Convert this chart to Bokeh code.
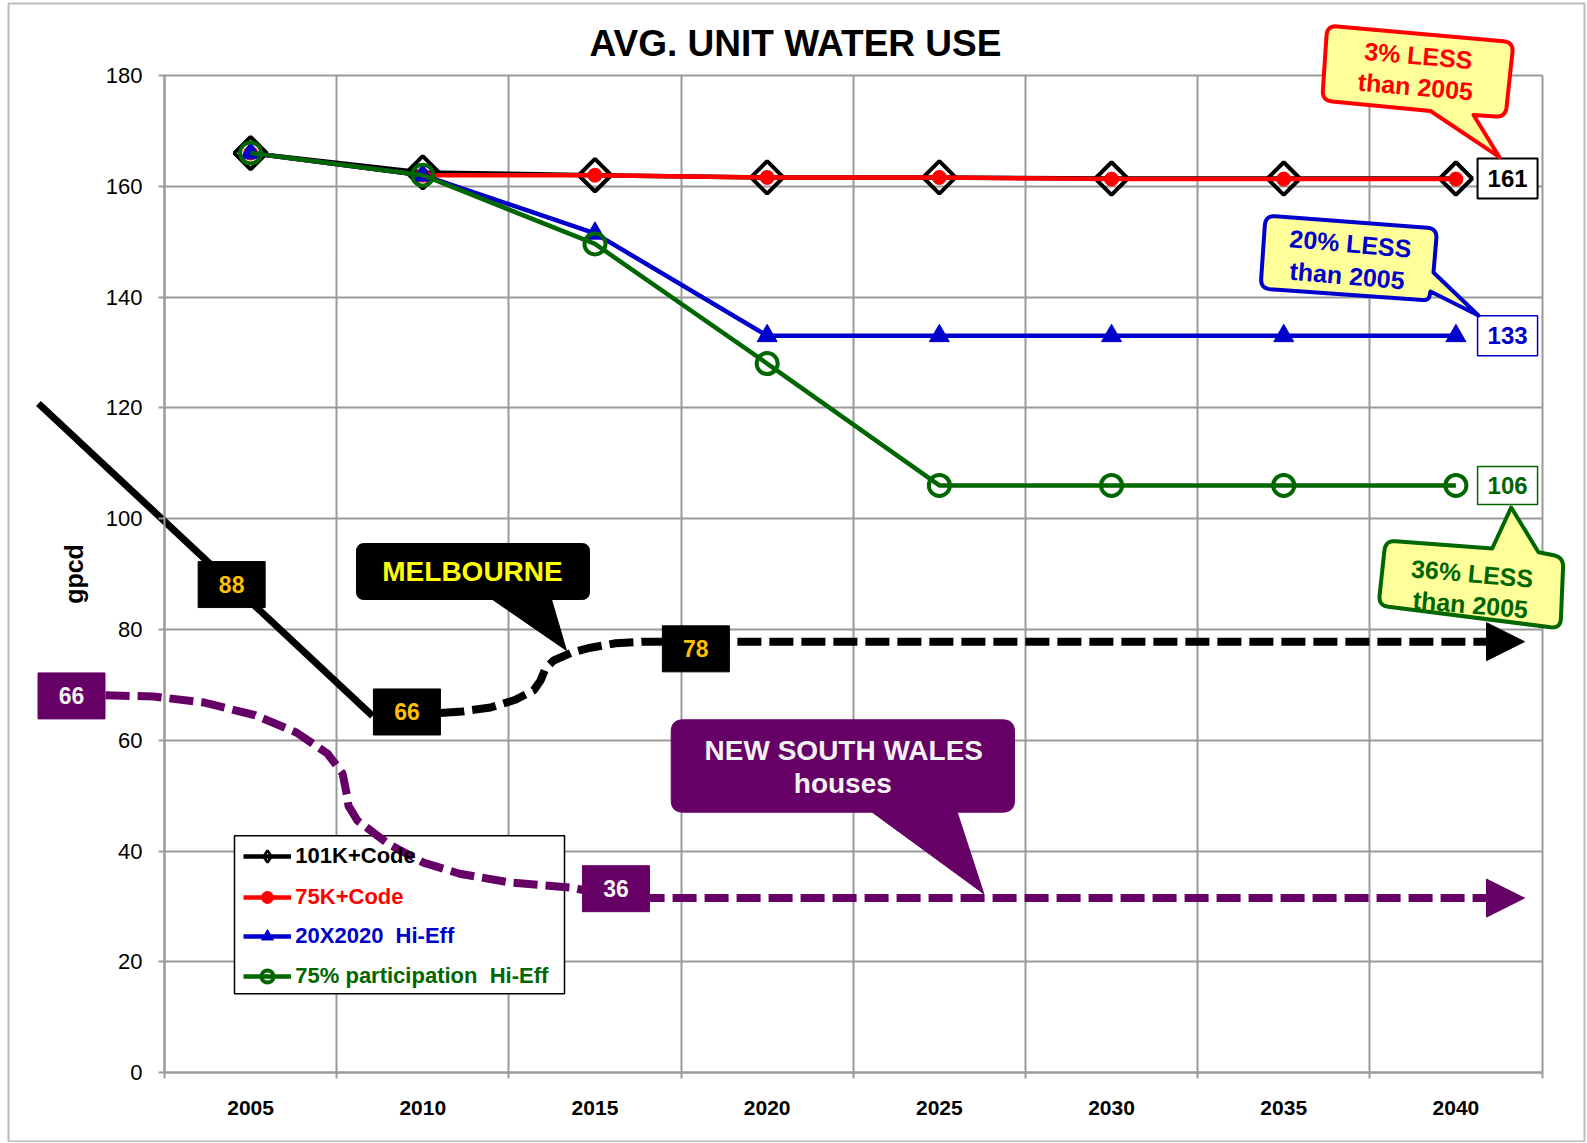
import math
from bokeh.plotting import figure
from bokeh.models import Range1d, FixedTicker, Legend, LegendItem, Arrow, NormalHead, Grid
from bokeh.core.properties import value
from bokeh.embed import file_html
from bokeh.resources import INLINE

# ---------------- data ----------------
years = [2005, 2010, 2015, 2020, 2025, 2030, 2035, 2040]
code_101k = [166, 162.5, 162, 161.6, 161.6, 161.4, 161.4, 161.4]
code_75k = [166, 162, 162, 161.6, 161.6, 161.3, 161.3, 161.3]
hi_eff_20x = [166, 162, 151.5, 133, 133, 133, 133, 133]
part_75 = [166, 162, 149.6, 128, 106, 106, 106, 106]
series_names = ["101K+Code", "75K+Code", "20X2020  Hi-Eff", "75% participation  Hi-Eff"]
y_ticks = [0, 20, 40, 60, 80, 100, 120, 140, 160, 180]
x_bounds = [2002.5, 2007.5, 2012.5, 2017.5, 2022.5, 2027.5, 2032.5, 2037.5, 2042.5]

# Melbourne trend (gpcd)
mel_solid_x = [1998.84, 2008.54]
mel_solid_y = [120.8, 64.4]
mel_dash_x = [2010.51, 2011.15, 2011.97, 2012.69, 2013.22, 2013.42, 2013.56, 2013.80,
              2014.32, 2014.87, 2015.60, 2016.41, 2040.92]
mel_dash_y = [64.9, 65.2, 65.9, 67.3, 69.0, 70.8, 72.9, 74.4, 75.8, 76.7, 77.5, 77.8, 77.8]
mel_label_x = [2004.45, 2009.54, 2017.93]
mel_label_y = [88.1, 65.1, 76.5]
mel_label_text = ["88", "66", "78"]

# New South Wales houses (gpcd)
nsw_dash_x = [2000.79, 2002.18, 2003.66, 2005.14, 2006.33, 2007.23, 2007.67, 2007.81, 2007.84,
              2008.10, 2009.00, 2010.02, 2011.07, 2012.55, 2014.32, 2015.16, 2016.58, 2040.92]
nsw_dash_y = [68.1, 67.9, 66.8, 64.5, 61.4, 57.6, 54.0, 49.7, 48.2,
              45.5, 41.3, 37.9, 35.9, 34.3, 33.4, 32.3, 31.5, 31.5]
nsw_label_x = [1999.80, 2015.61]
nsw_label_y = [68.0, 33.2]
nsw_label_text = ["66", "36"]

# ---------------- geometry ----------------
W, H = 1586, 1142
XR = (1997.738, 2043.792)
YR = (-12.62, 193.54)
FL, FR = 0, W
FT, FB = 0, H


def dx(px):
    return XR[0] + (px - FL) * (XR[1] - XR[0]) / (FR - FL)


def dy(py):
    return YR[0] + (FB - py) * (YR[1] - YR[0]) / (FB - FT)


FONT = value("Liberation Sans")

p = figure(width=W, height=H, title=None, toolbar_location=None, output_backend="svg",
           x_range=Range1d(*XR), y_range=Range1d(*YR),
           min_border_left=0, min_border_right=0, min_border_top=0, min_border_bottom=0)
p.outline_line_color = None
p.background_fill_color = "white"
p.border_fill_color = "white"

GRID = "#9a9a9a"

# outer chart border
p.quad(left=[dx(8)], right=[dx(1584)], top=[dy(3)], bottom=[dy(1141)], fill_color=None,
       line_color="#bdbdbd", line_width=2, level="underlay")

# axes
xa = p.xaxis[0]
xa.fixed_location = 0
xa.ticker = FixedTicker(ticks=years, minor_ticks=x_bounds)
xa.bounds = (x_bounds[0], x_bounds[-1])
xa.axis_line_color = GRID
xa.axis_line_width = 2
xa.major_tick_out = 0
xa.major_tick_in = 0
xa.minor_tick_out = 6
xa.minor_tick_in = 0
xa.minor_tick_line_color = GRID
xa.minor_tick_line_width = 2
xa.major_label_text_font = "Liberation Sans"
xa.major_label_text_font_style = "bold"
xa.major_label_text_font_size = "21px"
xa.major_label_text_color = "black"
xa.major_label_standoff = 22

ya = p.yaxis[0]
ya.fixed_location = x_bounds[0]
ya.ticker = FixedTicker(ticks=y_ticks)
ya.bounds = (0, 180)
ya.axis_line_color = GRID
ya.axis_line_width = 2
ya.major_tick_out = 6
ya.major_tick_in = 0
ya.major_tick_line_color = GRID
ya.major_tick_line_width = 2
ya.minor_tick_line_color = None
ya.major_label_text_font = "Liberation Sans"
ya.major_label_text_font_size = "22px"
ya.major_label_text_color = "black"
ya.major_label_standoff = 16
ya.axis_label = "gpcd"
ya.axis_label_text_font = "Liberation Sans"
ya.axis_label_text_font_style = "bold"
ya.axis_label_text_font_size = "25px"
ya.axis_label_text_color = "black"
ya.axis_label_standoff = 15

p.xgrid.ticker = FixedTicker(ticks=x_bounds)
p.ygrid.ticker = FixedTicker(ticks=y_ticks)
if "cross_bounds" in Grid.properties():
    for g in p.xgrid:
        g.bounds = (x_bounds[0], x_bounds[-1])
        g.cross_bounds = (0, 180)
    for g in p.ygrid:
        g.bounds = (0, 180)
        g.cross_bounds = (x_bounds[0], x_bounds[-1])
    p.xgrid.grid_line_color = GRID
    p.ygrid.grid_line_color = GRID
    p.xgrid.grid_line_width = 2
    p.ygrid.grid_line_width = 2
else:
    p.xgrid.visible = False
    p.ygrid.visible = False
    p.segment(x0=x_bounds, y0=[0] * len(x_bounds), x1=x_bounds, y1=[180] * len(x_bounds),
              line_color=GRID, line_width=2, level="underlay")
    p.segment(x0=[x_bounds[0]] * len(y_ticks), y0=y_ticks, x1=[x_bounds[-1]] * len(y_ticks),
              y1=y_ticks, line_color=GRID, line_width=2, level="underlay")


def round_poly(pts, n=8):
    xs, ys = [], []
    N = len(pts)
    for i in range(N):
        x, y, r = pts[i]
        if r <= 0:
            xs.append(x)
            ys.append(y)
            continue
        px, py, _ = pts[i - 1]
        nx, ny, _ = pts[(i + 1) % N]
        l1 = math.hypot(px - x, py - y)
        l2 = math.hypot(nx - x, ny - y)
        r1, r2 = min(r, l1 / 2), min(r, l2 / 2)
        ax, ay = x + (px - x) / l1 * r1, y + (py - y) / l1 * r1
        bx, by = x + (nx - x) / l2 * r2, y + (ny - y) / l2 * r2
        for k in range(n + 1):
            t = k / n
            xs.append((1 - t) ** 2 * ax + 2 * (1 - t) * t * x + t ** 2 * bx)
            ys.append((1 - t) ** 2 * ay + 2 * (1 - t) * t * y + t ** 2 * by)
    return [dx(v) for v in xs], [dy(v) for v in ys]


def bubble(pts, fill, line, lw, level="glyph"):
    xs, ys = round_poly(pts)
    r = p.patch(xs, ys, fill_color=fill, line_color=line, line_width=lw, line_join="round")
    r.level = level
    return r


def txt(x, y, t, color, size, angle=0.0, bold=True, level="glyph"):
    r = p.text(x=x, y=y, text=t, text_color=color, text_font=FONT,
               text_font_style="bold" if bold else "normal", text_font_size=size,
               text_align="center", text_baseline="middle", angle=angle)
    r.level = level
    return r


# legend box
p.rect(x=[dx(399)], y=[dy(914.2)], width=330, height=158, width_units="screen",
       height_units="screen", fill_color="white", line_color="black", line_width=1.5)

# ---------------- series ----------------
colors = ["#000000", "#FF0000", "#0000CC", "#006600"]
marker_specs = [
    dict(marker="square", angle=math.pi / 4, size=23, fill_color=None, line_width=4),
    dict(marker="circle", size=14, line_width=1),
    dict(marker="triangle", size=20, line_width=1),
    dict(marker="circle", size=21, fill_color=None, line_width=4),
]
series = [code_101k, code_75k, hi_eff_20x, part_75]
renderers = []
for vals, col, ms in zip(series, colors, marker_specs):
    lr = p.line(years, vals, line_color=col, line_width=4.5)
    kw = dict(ms)
    kw.setdefault("fill_color", col)
    sr = p.scatter(years, vals, line_color=col, **kw)
    renderers.append([lr, sr])

# legend swatch for the diamond marker (legend swatches ignore marker angle)
diamond_swatch = p.scatter([XR[0] - 50], [0], marker="diamond", size=20, fill_color=None,
                           line_color="black", line_width=2.5)
renderers[0] = [renderers[0][0], diamond_swatch]

# end value boxes
end_x = years[-1] + 1.5
box_specs = [(code_101k, "#000000", 2, 40), (hi_eff_20x, "#0000CC", 1.5, 40), (part_75, "#006600", 1.5, 38)]
for vals, col, lw, hh in box_specs:
    p.rect(x=[end_x], y=[vals[-1]], width=60, height=hh, width_units="screen",
           height_units="screen", fill_color="white", line_color=col, line_width=lw)
    txt([end_x], [vals[-1]], [str(round(vals[-1]))], col, "24px")


def pct_less(vals):
    return round((vals[0] - vals[-1]) / vals[0] * 100)


ANG = -0.087
FILL = "#FFFF99"
# red callout
bubble([(1326.7, 25, 10), (1513, 41.7, 10), (1505, 116.7, 10), (1473, 114.5, 0), (1499, 156.7, 0),
        (1430, 110.5, 0), (1321.7, 100, 10)], FILL, "#FF0000", 4)
txt([dx(1418), dx(1415)], [dy(55), dy(86)], [f"{pct_less(code_101k)}% LESS", "than 2005"],
    "#FF0000", "25px", ANG)
# blue callout
bubble([(1265, 215, 10), (1436.7, 228, 10), (1433, 272, 0), (1478, 315, 0), (1430, 291, 0),
        (1428, 300, 6), (1260, 288, 10)], FILL, "#0000CC", 4)
txt([dx(1350), dx(1346.7)], [dy(243), dy(275)], [f"{pct_less(hi_eff_20x)}% LESS", "than 2005"],
    "#0000CC", "25px", ANG)
# green callout
bubble([(1385, 540, 10), (1491.7, 548, 0), (1510.7, 507, 0), (1538, 551.7, 0), (1563, 556.7, 10),
        (1560, 628, 10), (1378, 605, 10)], FILL, "#006600", 4)
txt([dx(1471.7), dx(1470)], [dy(573), dy(604)], [f"{pct_less(part_75)}% LESS", "than 2005"],
    "#006600", "25px", ANG)

# ---------------- Melbourne ----------------
ARROW_TIP = dx(1524)
p.line(mel_solid_x, mel_solid_y, line_color="black", line_width=7)
p.line(mel_dash_x, mel_dash_y, line_color="black", line_width=8, line_dash="24 8")
p.add_layout(Arrow(end=NormalHead(size=38, fill_color="black", line_color="black", line_width=1),
                   x_start=mel_dash_x[-1], y_start=mel_dash_y[-1], x_end=ARROW_TIP, y_end=mel_dash_y[-1],
                   line_alpha=0))
bubble([(356, 543, 8), (589, 543, 8), (589, 599, 8), (551, 599, 0), (566, 650, 0), (492, 599, 0),
        (356, 599, 8)], "black", "black", 1)
txt([dx(472)], [dy(571)], ["MELBOURNE"], "#FFFF00", "28px")
p.rect(x=mel_label_x, y=mel_label_y, width=67, height=46, width_units="screen",
       height_units="screen", fill_color="black", line_color="black")
txt(mel_label_x, mel_label_y, mel_label_text, "#FFC000", "23px")

# ---------------- New South Wales ----------------
PURPLE = "#660066"
r = p.line(nsw_dash_x, nsw_dash_y, line_color=PURPLE, line_width=8, line_dash="24 8")
r.level = "overlay"
p.add_layout(Arrow(end=NormalHead(size=38, fill_color=PURPLE, line_color=PURPLE, line_width=1),
                   x_start=nsw_dash_x[-1], y_start=nsw_dash_y[-1], x_end=ARROW_TIP, y_end=nsw_dash_y[-1],
                   line_alpha=0))
r = p.rect(x=nsw_label_x, y=nsw_label_y, width=67, height=46, width_units="screen",
           height_units="screen", fill_color=PURPLE, line_color=PURPLE)
r.level = "overlay"
txt(nsw_label_x, nsw_label_y, nsw_label_text, "#F2F2F2", "23px", level="overlay")
bubble([(670.7, 719.3, 12), (1014, 719.3, 12), (1014, 811.7, 12), (956.7, 811.7, 0),
        (983.3, 893.3, 0), (871.7, 811.7, 0), (670.7, 811.7, 12)], PURPLE, PURPLE, 1, level="overlay")
txt([dx(843.3), dx(842.3)], [dy(750), dy(782.7)], ["NEW SOUTH WALES", "houses"], "#F2F2F2", "28px",
    level="overlay")

# title
txt([dx(795)], [dy(43.3)], ["AVG. UNIT WATER USE"], "black", "37px")

# ---------------- legends ----------------
row_centers = [856, 897.3, 936, 976]
for (lr, sr), name, col, rc in zip(renderers, series_names, colors, row_centers):
    lg = Legend(items=[LegendItem(label=name, renderers=[lr, sr])],
                location=(243.3 - FL, FB - (rc + 15)),
                label_text_color=col, label_text_font="Liberation Sans",
                label_text_font_style="bold", label_text_font_size="22px",
                glyph_width=48, glyph_height=30, label_height=30, label_standoff=4,
                padding=0, margin=0, spacing=0,
                background_fill_alpha=0, border_line_alpha=0)
    p.add_layout(lg)

open("out.html", "w").write(file_html(p, INLINE))
